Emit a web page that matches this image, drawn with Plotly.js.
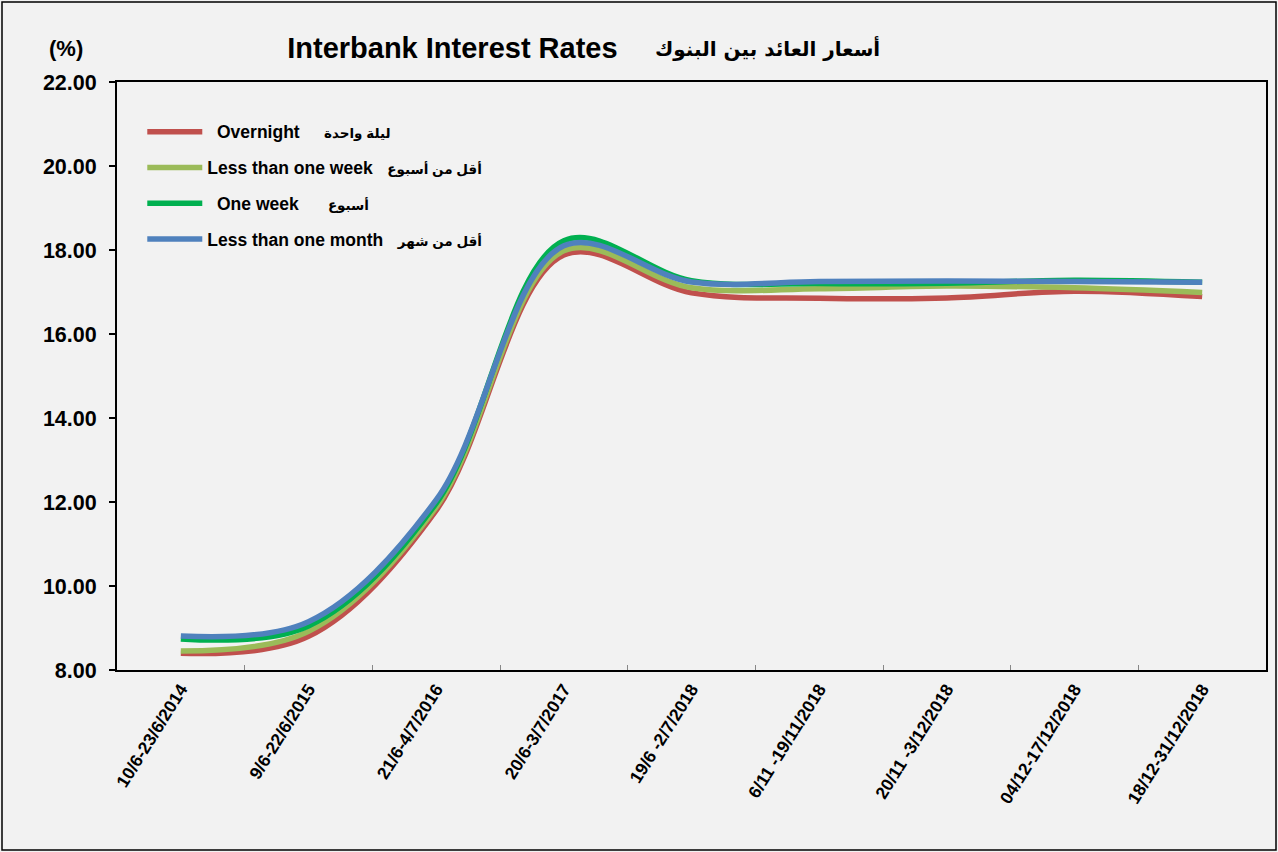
<!DOCTYPE html>
<html>
<head>
<meta charset="utf-8">
<script src="https://cdn.plot.ly/plotly-3.0.1.min.js"></script>
<style>
  html, body { margin: 0; padding: 0; background: #f2f2f2; }
  #chart { width: 1278px; height: 852px; }
</style>
</head>
<body>
<div id="chart"></div>
<script>
// ---- data ----
const categories = [
  "10/6-23/6/2014", "9/6-22/6/2015", "21/6-4/7/2016", "20/6-3/7/2017",
  "19/6 -2/7/2018", "6/11 -19/11/2018", "20/11 -3/12/2018",
  "04/12-17/12/2018", "18/12-31/12/2018"
];
const overnight     = [8.40, 8.80, 11.80, 17.88, 16.98, 16.85, 16.86, 17.02, 16.89];
const lessThanWeek  = [8.45, 8.92, 11.88, 17.98, 17.10, 17.08, 17.14, 17.10, 16.99];
const oneWeek       = [8.74, 9.05, 11.97, 18.22, 17.27, 17.20, 17.21, 17.28, 17.23];
const lessThanMonth = [8.81, 9.15, 12.05, 18.10, 17.24, 17.25, 17.26, 17.25, 17.23];

const englishNames = ["\u00a0\u00a0Overnight", "Less than one week", "\u00a0\u00a0One week", "Less than one month"];
const arabicNames  = ["ليلة واحدة", "أقل من أسبوع", "أسبوع", "أقل من شهر"];
const nameGaps     = ["\u00a0\u00a0\u00a0\u00a0\u00a0", "\u00a0\u00a0\u00a0", "\u00a0\u00a0\u00a0\u00a0\u00a0\u00a0", "\u00a0\u00a0\u00a0"];
const seriesColors = ["#C0504D", "#9BBB59", "#00B050", "#4F81BD"];
const seriesValues = [overnight, lessThanWeek, oneWeek, lessThanMonth];

const FONT = "Liberation Sans, Arial, DejaVu Sans, sans-serif";

const traces = seriesValues.map((vals, i) => ({
  type: "scatter",
  mode: "lines",
  x: categories,
  y: vals,
  name: "<b>" + englishNames[i] + nameGaps[i] +
        "<span style=\"font-size:13.5px\">" + arabicNames[i] + "</span></b>",
  legendgroup: "g" + i,
  line: { color: seriesColors[i], width: 5.5, shape: "spline", smoothing: 1 },
  hoverinfo: "x+y"
}));

const layout = {
  width: 1278,
  height: 852,
  paper_bgcolor: "#f2f2f2",
  plot_bgcolor: "#f2f2f2",
  margin: { l: 117, r: 12, t: 82, b: 182, pad: 0 },
  font: { family: FONT, color: "#000" },
  title: {
    text: "<b>Interbank Interest Rates</b>",
    font: { family: FONT, size: 29, color: "#000" },
    xref: "container", x: 0.354, xanchor: "center",
    yref: "container", y: 0.944, yanchor: "middle"
  },
  showlegend: true,
  legend: {
    x: 0.022, y: 0.946, xanchor: "left", yanchor: "top",
    bgcolor: "rgba(0,0,0,0)",
    font: { family: FONT, size: 17.5, color: "#000" },
    tracegroupgap: 10,
    itemwidth: 55
  },
  xaxis: {
    type: "category",
    showline: true, linecolor: "#000", linewidth: 2, mirror: true,
    ticks: "inside", tickson: "boundaries", ticklen: 5, tickcolor: "#888", tickwidth: 1,
    tickangle: -58,
    tickfont: { family: FONT, size: 17.5, color: "#000", weight: "bold" },
    showgrid: false, zeroline: false,
    range: [-0.5, 8.5]
  },
  yaxis: {
    range: [8, 22],
    tick0: 8, dtick: 2,
    tickformat: ".2f",
    showline: true, linecolor: "#000", linewidth: 2, mirror: true,
    ticks: "outside", ticklen: 6, tickcolor: "#000", tickwidth: 1.5,
    ticklabelstandoff: 8,
    tickfont: { family: FONT, size: 21.5, color: "#000", weight: "bold" },
    showgrid: false, zeroline: false
  },
  annotations: [
    {
      text: "<b>أسعار العائد بين البنوك</b>",
      xref: "paper", yref: "paper",
      x: (767 - 117) / 1149, y: (670 - 48) / 588,
      xanchor: "center", yanchor: "middle", showarrow: false,
      font: { family: "DejaVu Sans, Noto Sans, sans-serif", size: 20, color: "#000" }
    },
    {
      text: "<b>(%)</b>",
      xref: "paper", yref: "paper",
      x: (66 - 117) / 1149, y: (670 - 48) / 588,
      xanchor: "center", yanchor: "middle", showarrow: false,
      font: { family: FONT, size: 22, color: "#000" }
    }
  ],
  shapes: [
    {
      type: "rect", xref: "paper", yref: "paper",
      x0: (2 - 117) / 1149, x1: (1276 - 117) / 1149,
      y0: (670 - 850) / 588, y1: (670 - 2) / 588,
      line: { color: "#000", width: 1.5 }, fillcolor: "rgba(0,0,0,0)", layer: "below"
    }
  ]
};

Plotly.newPlot("chart", traces, layout, { displayModeBar: false });
</script>
</body>
</html>
